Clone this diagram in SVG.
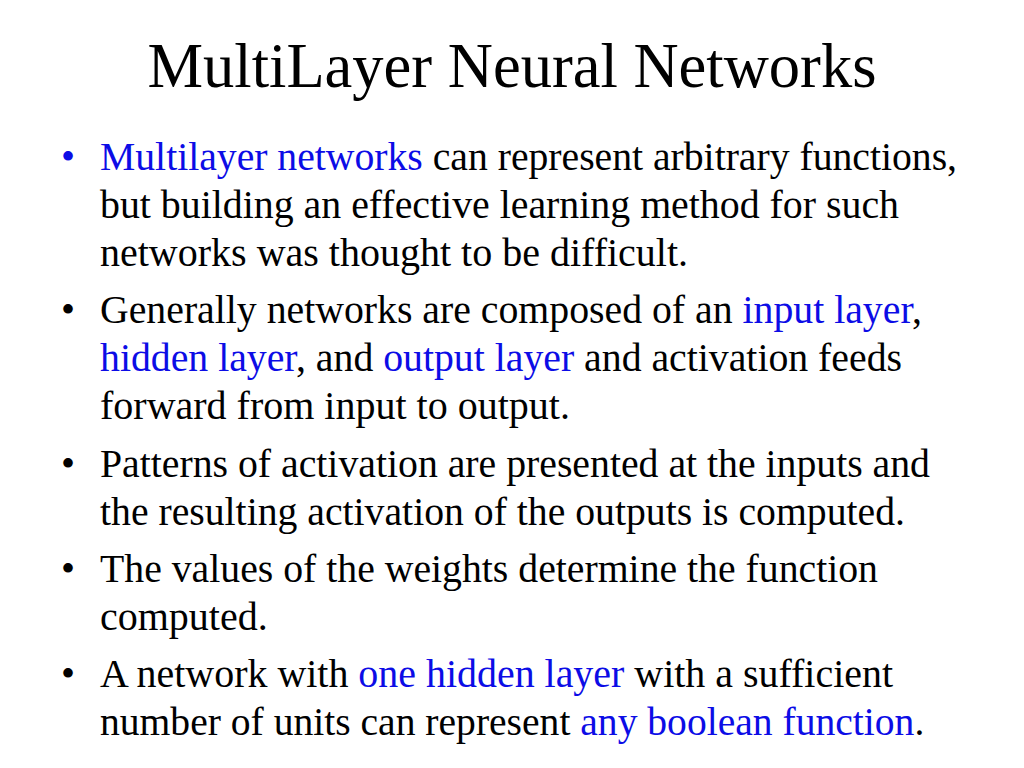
<svg xmlns="http://www.w3.org/2000/svg" width="1024" height="768" viewBox="0 0 1024 768">
<style>
text{font-family:"Liberation Serif","Times New Roman",serif;fill:#000}
.t{font-size:62.5px}
.b{font-size:40px}
.hl{fill:#0c0ce6}
</style>
<rect width="1024" height="768" fill="#fff"/>
<text id="title" class="t" x="512" y="87" text-anchor="middle">MultiLayer Neural Networks</text>
<g id="bullet1">
<text class="b hl" x="61" y="170">•</text>
<text class="b" x="100" y="170" textLength="857" lengthAdjust="spacingAndGlyphs"><tspan class="hl">Multilayer networks</tspan> can represent arbitrary functions,</text>
<text class="b" x="100" y="218" textLength="799" lengthAdjust="spacingAndGlyphs">but building an effective learning method for such</text>
<text class="b" x="100" y="266">networks was thought to be difficult.</text>
</g>
<g id="bullet2">
<text class="b" x="61" y="323">•</text>
<text class="b" x="100" y="323" textLength="822" lengthAdjust="spacingAndGlyphs">Generally networks are composed of an <tspan class="hl">input layer</tspan>,</text>
<text class="b" x="100" y="371" textLength="802" lengthAdjust="spacingAndGlyphs"><tspan class="hl">hidden layer</tspan>, and <tspan class="hl">output layer</tspan> and activation feeds</text>
<text class="b" x="100" y="419">forward from input to output.</text>
</g>
<g id="bullet3">
<text class="b" x="61" y="477">•</text>
<text class="b" x="100" y="477" textLength="830" lengthAdjust="spacingAndGlyphs">Patterns of activation are presented at the inputs and</text>
<text class="b" x="100" y="525" textLength="805" lengthAdjust="spacingAndGlyphs">the resulting activation of the outputs is computed.</text>
</g>
<g id="bullet4">
<text class="b" x="61" y="582">•</text>
<text class="b" x="100" y="582" textLength="778" lengthAdjust="spacingAndGlyphs">The values of the weights determine the function</text>
<text class="b" x="100" y="630">computed.</text>
</g>
<g id="bullet5">
<text class="b" x="61" y="687">•</text>
<text class="b" x="100" y="687" textLength="793" lengthAdjust="spacingAndGlyphs">A network with <tspan class="hl">one hidden layer</tspan> with a sufficient</text>
<text class="b" x="100" y="735" style="font-size:39.6px">number of units can represent <tspan class="hl">any boolean function</tspan>.</text>
</g>
</svg>
